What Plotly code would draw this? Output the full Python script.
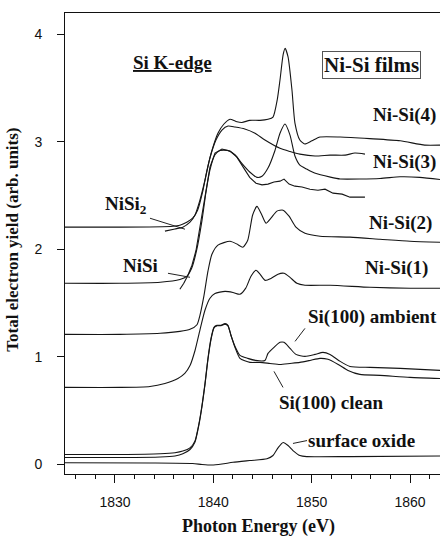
import plotly.graph_objects as go

# ---------------- data (photon energy eV, total electron yield arb. units) ----------------
nisi4_e = [1824.92, 1830.5, 1835.9, 1836.6, 1837.3, 1837.9, 1838.4, 1838.95, 1839.36, 1839.86,
           1840.47, 1841.08, 1841.7, 1842.3, 1842.9, 1843.7, 1844.75, 1845.56, 1846.07, 1846.5,
           1846.78, 1847.1, 1847.3, 1847.6, 1848.0, 1848.3, 1848.8, 1849.3, 1850.03, 1850.85,
           1852.9, 1855.9, 1859.0, 1861.5, 1863.05]
nisi4_y = [2.207, 2.207, 2.216, 2.225, 2.253, 2.29, 2.365, 2.55, 2.737, 2.92,
           3.08, 3.166, 3.21, 3.19, 3.18, 3.20, 3.20, 3.21, 3.23, 3.39,
           3.575, 3.81, 3.87, 3.79, 3.48, 3.175, 3.017, 2.98, 3.01, 3.045,
           3.045, 3.03, 3.01, 2.97, 2.97]

nisi2_ref_e = [1835.08, 1836.1, 1836.9, 1837.63, 1838.14, 1838.64, 1839.15, 1839.66, 1840.27,
               1840.88, 1841.5, 1842.2, 1843.2, 1844.24, 1845.25, 1846.78, 1847.8, 1848.8,
               1850.34, 1851.87, 1853.4, 1854.4, 1855.42]
nisi2_ref_y = [2.17, 2.19, 2.207, 2.253, 2.32, 2.458, 2.644, 2.85, 3.017,
               3.11, 3.147, 3.138, 3.12, 3.08, 3.017, 2.94, 2.91, 2.886,
               2.868, 2.877, 2.877, 2.896, 2.886]

nisi3_e = [1824.92, 1830.5, 1834.6, 1836.6, 1837.3, 1837.8, 1838.3, 1838.85, 1839.25, 1839.66,
           1840.17, 1840.68, 1841.5, 1842.2, 1842.9, 1843.7, 1844.44, 1844.95, 1845.56, 1846.27,
           1846.78, 1847.29, 1847.8, 1848.3, 1848.8, 1849.5, 1850.3, 1851.9, 1852.9, 1856.95,
           1858.98, 1861.0, 1863.05]
nisi3_y = [1.685, 1.685, 1.695, 1.72, 1.75, 1.825, 1.99, 2.27, 2.53, 2.74,
           2.88, 2.92, 2.92, 2.88, 2.80, 2.72, 2.67, 2.68, 2.756, 2.92,
           3.08, 3.166, 3.063, 2.868, 2.784, 2.747, 2.71, 2.672, 2.655, 2.66,
           2.675, 2.67, 2.65]

nisi_ref_e = [1836.6, 1837.0, 1837.42, 1837.83, 1838.24, 1838.64, 1839.15, 1839.66, 1840.17,
              1840.88, 1841.7, 1842.4, 1843.1, 1843.7, 1844.34, 1844.95, 1845.56, 1846.17,
              1846.78, 1847.19, 1847.7, 1848.3, 1849.02, 1849.83, 1850.64, 1851.36, 1852.17,
              1853.1, 1853.9, 1854.7, 1855.42]
nisi_ref_y = [1.63, 1.685, 1.76, 1.853, 1.99, 2.197, 2.495, 2.765, 2.896,
              2.933, 2.914, 2.858, 2.756, 2.67, 2.616, 2.60, 2.607, 2.626,
              2.635, 2.654, 2.607, 2.588, 2.58, 2.56, 2.55, 2.56, 2.523,
              2.514, 2.486, 2.486, 2.486]

nisi2_e = [1824.92, 1830.5, 1834.6, 1836.6, 1837.63, 1838.34, 1838.64, 1839.05, 1839.46, 1839.86,
           1840.47, 1841.7, 1842.4, 1843.0, 1843.5, 1844.0, 1844.44, 1844.85, 1845.36, 1845.86,
           1846.47, 1847.08, 1847.7, 1848.4, 1849.32, 1850.85, 1853.9, 1856.95, 1860.0, 1863.05]
nisi2_y = [1.21, 1.21, 1.22, 1.238, 1.257, 1.30, 1.387, 1.57, 1.80, 1.955,
           2.04, 2.076, 2.05, 2.02, 2.086, 2.32, 2.40, 2.337, 2.244, 2.29,
           2.356, 2.365, 2.309, 2.207, 2.15, 2.123, 2.114, 2.095, 2.076, 2.067]

nisi1_e = [1824.92, 1830.5, 1833.56, 1835.08, 1836.4, 1837.1, 1837.63, 1838.14, 1838.64, 1839.15,
           1839.66, 1840.17, 1841.19, 1842.0, 1842.71, 1843.3, 1843.83, 1844.34, 1844.75, 1845.25,
           1845.86, 1846.58, 1847.19, 1847.8, 1848.5, 1849.32, 1851.87, 1855.93, 1860.0, 1863.05]
nisi1_y = [0.717, 0.717, 0.726, 0.754, 0.80, 0.847, 0.92, 1.06, 1.25, 1.434,
           1.546, 1.59, 1.61, 1.60, 1.583, 1.64, 1.75, 1.806, 1.77, 1.713,
           1.73, 1.77, 1.778, 1.74, 1.685, 1.667, 1.667, 1.648, 1.639, 1.639]

si_amb_e = [1824.92, 1830.5, 1834.6, 1836.1, 1836.9, 1837.63, 1838.14, 1838.44, 1838.64, 1838.85,
            1839.15, 1839.46, 1839.76, 1840.07, 1840.37, 1840.78, 1841.19, 1841.49, 1841.8, 1842.2,
            1842.71, 1843.5, 1844.3, 1845.25, 1845.56, 1846.17, 1846.78, 1847.19, 1847.8, 1848.4,
            1849.32, 1850.34, 1851.15, 1851.87, 1852.9, 1853.9, 1855.93, 1859.0, 1863.05]
si_amb_y = [0.093, 0.093, 0.10, 0.11, 0.125, 0.155, 0.22, 0.335, 0.43, 0.55,
            0.75, 0.99, 1.17, 1.276, 1.294, 1.294, 1.31, 1.294, 1.20, 1.10,
            1.015, 0.987, 0.968, 0.968, 1.033, 1.09, 1.136, 1.136, 1.08, 1.024,
            1.006, 1.024, 1.043, 1.024, 0.959, 0.912, 0.903, 0.894, 0.875]

si_clean_e = [1824.92, 1830.5, 1834.6, 1836.1, 1836.9, 1837.63, 1838.14, 1838.44, 1838.64, 1838.85,
              1839.15, 1839.46, 1839.76, 1840.07, 1840.37, 1840.78, 1841.19, 1841.49, 1841.8, 1842.2,
              1842.71, 1843.73, 1844.75, 1845.76, 1846.78, 1847.8, 1848.8, 1849.83, 1850.85, 1851.66,
              1852.7, 1853.7, 1854.9, 1856.95, 1860.0, 1863.05]
si_clean_y = [0.065, 0.065, 0.07, 0.08, 0.10, 0.14, 0.21, 0.325, 0.42, 0.54,
              0.74, 0.98, 1.16, 1.27, 1.29, 1.29, 1.305, 1.29, 1.20, 1.09,
              0.987, 0.95, 0.95, 0.94, 0.93, 0.94, 0.95, 0.968, 0.987, 0.978,
              0.93, 0.875, 0.838, 0.829, 0.81, 0.80]

oxide_e = [1824.92, 1833.56, 1837.9, 1838.85, 1839.86, 1840.88, 1842.0, 1843.7, 1845.46, 1846.07,
           1846.6, 1847.1, 1847.6, 1848.1, 1848.8, 1849.5, 1853.9, 1863.05]
oxide_y = [0.016, 0.014, 0.009, 0.0, -0.005, 0.005, 0.021, 0.037, 0.053, 0.084,
           0.158, 0.205, 0.177, 0.13, 0.084, 0.074, 0.074, 0.079]

series = [
    ("Ni-Si(4)", nisi4_e, nisi4_y, "spline"),
    ("NiSi2 ref", nisi2_ref_e, nisi2_ref_y, "spline"),
    ("Ni-Si(3)", nisi3_e, nisi3_y, "spline"),
    ("NiSi ref", nisi_ref_e, nisi_ref_y, "linear"),
    ("Ni-Si(2)", nisi2_e, nisi2_y, "spline"),
    ("Ni-Si(1)", nisi1_e, nisi1_y, "spline"),
    ("Si(100) ambient", si_amb_e, si_amb_y, "spline"),
    ("Si(100) clean", si_clean_e, si_clean_y, "spline"),
    ("surface oxide", oxide_e, oxide_y, "spline"),
]

x_ticks = [1830, 1840, 1850, 1860]
y_ticks = [0, 1, 2, 3, 4]

# labels: (text, x, y)
labels = [
    ("Ni-Si(4)", 1859.4, 3.25),
    ("Ni-Si(3)", 1859.4, 2.81),
    ("Ni-Si(2)", 1859.0, 2.25),
    ("Ni-Si(1)", 1858.6, 1.825),
    ("Si(100) ambient", 1856.2, 1.37),
    ("Si(100) clean", 1852.0, 0.568),
    ("surface oxide", 1855.1, 0.223),
    ("NiSi<sub>2</sub>", 1831.1, 2.41),
    ("NiSi", 1832.6, 1.853),
]
# leader lines: (x0, y0, x1, y1)
leaders = [
    (1833.56, 2.29, 1837.12, 2.188),
    (1835.39, 1.778, 1837.63, 1.741),
    (1849.32, 1.266, 1848.31, 1.145),
    (1846.17, 0.866, 1847.09, 0.717),
    (1848.1, 0.196, 1849.53, 0.223),
]

SERIF = "Liberation Serif, Times New Roman, serif"
SANS = "Liberation Sans, Arial, sans-serif"

fig = go.Figure()
for name, xs, ys, shape in series:
    line = dict(color="#151515", width=1.1, shape=shape)
    if shape == "spline":
        line["smoothing"] = 0.6
    fig.add_trace(go.Scatter(x=xs, y=ys, mode="lines", name=name, line=line,
                             showlegend=False, hoverinfo="skip"))

for text, x, y in labels:
    fig.add_annotation(x=x, y=y, xref="x", yref="y", text="<b>" + text + "</b>",
                       showarrow=False, font=dict(family=SERIF, size=19, color="#111"),
                       xanchor="center", yanchor="middle")

for x0, y0, x1, y1 in leaders:
    fig.add_shape(type="line", x0=x0, y0=y0, x1=x1, y1=y1, xref="x", yref="y",
                  line=dict(color="#222", width=1))

fig.add_annotation(x=1835.8, y=3.74, xref="x", yref="y", text="<b><u>Si K-edge</u></b>",
                   showarrow=False, font=dict(family=SERIF, size=19, color="#111"),
                   xanchor="center", yanchor="middle")
fig.add_annotation(x=1856.1, y=3.715, xref="x", yref="y", text="<b>Ni-Si films</b>",
                   showarrow=False, font=dict(family=SERIF, size=21, color="#111"),
                   xanchor="center", yanchor="middle",
                   bordercolor="#555", borderwidth=1, borderpad=1, bgcolor="white")

# axis titles
fig.add_annotation(x=-0.14, y=0.507, xref="paper", yref="paper",
                   text="<b>Total electron yield (arb. units)</b>", textangle=-90,
                   xanchor="center", yanchor="middle",
                   showarrow=False, font=dict(family=SERIF, size=17, color="#111"))
fig.add_annotation(x=0.516, y=-0.113, xref="paper", yref="paper",
                   text="<b>Photon Energy (eV)</b>", xanchor="center", yanchor="middle",
                   showarrow=False, font=dict(family=SERIF, size=18, color="#111"))

fig.update_xaxes(range=[1824.92, 1863.05], tickvals=x_ticks, ticks="outside", ticklen=8,
                 tickcolor="#111", showline=True, linecolor="#111", linewidth=1, mirror=True,
                 showgrid=False, zeroline=False, ticklabelstandoff=7,
                 tickfont=dict(family=SANS, size=14, color="#111"),
                 minor=dict(dtick=2, tick0=1830, ticks="outside", ticklen=4, tickcolor="#111",
                            showgrid=False))
fig.update_yaxes(range=[-0.088, 4.198], tickvals=y_ticks, ticks="outside", ticklen=7,
                 tickcolor="#111", showline=True, linecolor="#111", linewidth=1, mirror=False,
                 showgrid=False, zeroline=False, ticklabelstandoff=12,
                 tickfont=dict(family=SANS, size=14, color="#111"))

fig.update_layout(width=440, height=536, margin=dict(l=65, r=0, t=13, b=62, pad=0),
                  paper_bgcolor="white", plot_bgcolor="white", showlegend=False)

fig.write_html("out.html")
